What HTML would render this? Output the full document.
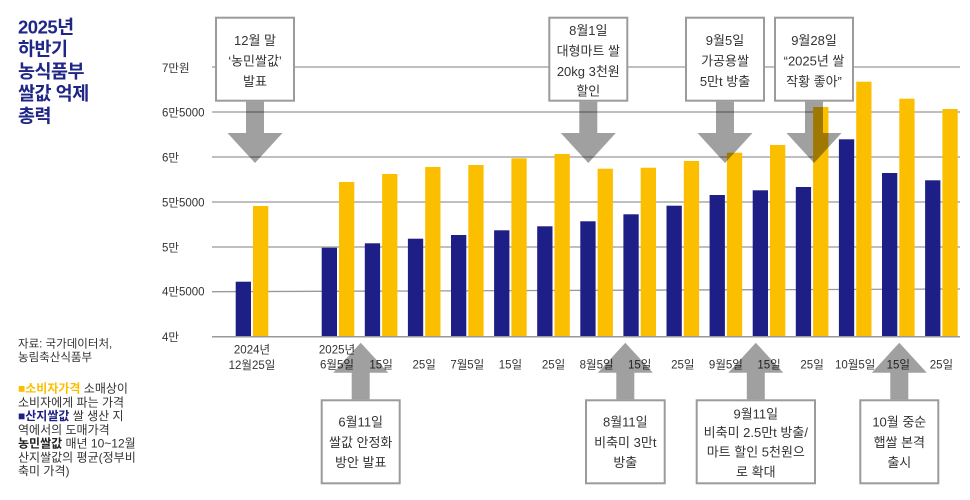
<!DOCTYPE html>
<html><head><meta charset="utf-8"><style>
html,body{margin:0;padding:0;background:#fff;}
svg{display:block;}
text{font-family:"Liberation Sans","Noto Sans CJK KR",sans-serif;}
.ax{font-size:11.5px;fill:#333;}
.xl{font-size:11.5px;fill:#333;text-anchor:middle;}
.bx{font-size:13px;fill:#333;text-anchor:middle;}
.lg{font-size:12px;fill:#333;}
.src{font-size:11.5px;fill:#333;}
.ar{fill:#a0a0a0;mix-blend-mode:multiply;}
.box{fill:#fff;stroke:#9b9b9b;stroke-width:2;}
</style></head><body>
<svg width="970" height="500" viewBox="0 0 970 500" xmlns="http://www.w3.org/2000/svg">
<!-- title -->
<g font-size="18.5" font-weight="bold" fill="#1f2687" letter-spacing="-0.5">
<text x="18" y="33.5">2025년</text>
<text x="18" y="55.7">하반기</text>
<text x="18" y="77.9">농식품부</text>
<text x="18" y="100.1">쌀값 억제</text>
<text x="18" y="122.3">총력</text>
</g>
<!-- gridlines -->
<g stroke="#999" stroke-width="1.3">
<line x1="212" y1="67" x2="960" y2="67"/>
<line x1="212" y1="112" x2="960" y2="112"/>
<line x1="212" y1="157" x2="960" y2="157"/>
<line x1="212" y1="202" x2="960" y2="202"/>
<line x1="212" y1="247" x2="960" y2="247"/>
<line x1="212" y1="291.7" x2="960" y2="289"/>
</g>
<!-- y labels -->
<text class="ax" x="162" y="72">7만원</text>
<text class="ax" x="162" y="116.5">6만5000</text>
<text class="ax" x="162" y="161.5">6만</text>
<text class="ax" x="162" y="206.5">5만5000</text>
<text class="ax" x="162" y="251.5">5만</text>
<text class="ax" x="162" y="295.5">4만5000</text>
<text class="ax" x="162" y="341">4만</text>
<!-- bars -->
<g fill="#1e1f86">
<rect x="235.7" y="281.7" width="15.3" height="54.8"/>
<rect x="321.7" y="247.7" width="15.3" height="88.8"/>
<rect x="364.8" y="243.3" width="15.3" height="93.2"/>
<rect x="407.9" y="238.7" width="15.3" height="97.8"/>
<rect x="451.0" y="235" width="15.3" height="101.5"/>
<rect x="494.1" y="230.3" width="15.3" height="106.2"/>
<rect x="537.2" y="226.3" width="15.3" height="110.2"/>
<rect x="580.3" y="221.3" width="15.3" height="115.2"/>
<rect x="623.4" y="214.3" width="15.3" height="122.2"/>
<rect x="666.5" y="205.7" width="15.3" height="130.8"/>
<rect x="709.6" y="195" width="15.3" height="141.5"/>
<rect x="752.7" y="190.3" width="15.3" height="146.2"/>
<rect x="795.8" y="187" width="15.3" height="149.5"/>
<rect x="838.9" y="139.3" width="15.3" height="197.2"/>
<rect x="882.0" y="173" width="15.3" height="163.5"/>
<rect x="925.1" y="180.3" width="15.3" height="156.2"/>
</g>
<g fill="#fcbf00">
<rect x="253.0" y="206" width="15.3" height="130.5"/>
<rect x="339.0" y="182" width="15.3" height="154.5"/>
<rect x="382.1" y="174" width="15.3" height="162.5"/>
<rect x="425.2" y="167" width="15.3" height="169.5"/>
<rect x="468.3" y="165" width="15.3" height="171.5"/>
<rect x="511.4" y="158.3" width="15.3" height="178.2"/>
<rect x="554.5" y="154" width="15.3" height="182.5"/>
<rect x="597.6" y="168.7" width="15.3" height="167.8"/>
<rect x="640.7" y="167.7" width="15.3" height="168.8"/>
<rect x="683.8" y="161" width="15.3" height="175.5"/>
<rect x="726.9" y="152.7" width="15.3" height="183.8"/>
<rect x="770.0" y="145" width="15.3" height="191.5"/>
<rect x="813.1" y="107" width="15.3" height="229.5"/>
<rect x="856.2" y="81.7" width="15.3" height="254.8"/>
<rect x="899.3" y="98.7" width="15.3" height="237.8"/>
<rect x="942.4" y="109" width="15.3" height="227.5"/>
</g>
<line x1="212" y1="336.7" x2="960" y2="336.7" stroke="#999" stroke-width="1.5"/>
<!-- x labels -->
<text class="xl" x="252" y="353.5">2024년</text>
<text class="xl" x="252" y="369">12월25일</text>
<text class="xl" x="337" y="353.5">2025년</text>
<text class="xl" x="337" y="368.5">6월5일</text>
<text class="xl" x="381.1" y="368.5">15일</text>
<text class="xl" x="424.2" y="368.5">25일</text>
<text class="xl" x="467.3" y="368.5">7월5일</text>
<text class="xl" x="510.4" y="368.5">15일</text>
<text class="xl" x="553.5" y="368.5">25일</text>
<text class="xl" x="596.6" y="368.5">8월5일</text>
<text class="xl" x="639.7" y="368.5">15일</text>
<text class="xl" x="682.8" y="368.5">25일</text>
<text class="xl" x="725.9" y="368.5">9월5일</text>
<text class="xl" x="769" y="368.5">15일</text>
<text class="xl" x="812.1" y="368.5">25일</text>
<text class="xl" x="855.2" y="368.5">10월5일</text>
<text class="xl" x="898.3" y="368.5">15일</text>
<text class="xl" x="941.4" y="368.5">25일</text>
<!-- top boxes -->
<rect class="box" x="216" y="17.7" width="78" height="83"/>
<rect class="box" x="549.3" y="17.7" width="78" height="83"/>
<rect class="box" x="686" y="17.7" width="78" height="83"/>
<rect class="box" x="775" y="17.7" width="78" height="83"/>
<!-- bottom boxes -->
<rect class="box" x="321.7" y="400.3" width="78" height="83"/>
<rect class="box" x="586" y="400.3" width="78.7" height="83"/>
<rect class="box" x="696.7" y="400.3" width="118.3" height="83"/>
<rect class="box" x="860.3" y="400.3" width="78" height="83"/>
<!-- down arrows -->
<polygon class="ar" points="246,101.7 264,101.7 264,133 282.5,133 255,163 227.5,133 246,133"/>
<polygon class="ar" points="579.3,101.7 597.3,101.7 597.3,133 615.8,133 588.3,163 560.8,133 579.3,133"/>
<polygon class="ar" points="716,101.7 734,101.7 734,133 752.5,133 725,163 697.5,133 716,133"/>
<polygon class="ar" points="805,101.7 823,101.7 823,133 841.5,133 814,163 786.5,133 805,133"/>
<!-- up arrows -->
<polygon class="ar" points="360.7,342.7 388.2,372.7 369.7,372.7 369.7,399.3 351.7,399.3 351.7,372.7 333.2,372.7"/>
<polygon class="ar" points="625.3,342.7 652.8,372.7 634.3,372.7 634.3,399.3 616.3,399.3 616.3,372.7 597.8,372.7"/>
<polygon class="ar" points="755.8,342.7 783.3,372.7 764.8,372.7 764.8,399.3 746.8,399.3 746.8,372.7 728.3,372.7"/>
<polygon class="ar" points="899.3,342.7 926.8,372.7 908.3,372.7 908.3,399.3 890.3,399.3 890.3,372.7 871.8,372.7"/>
<!-- top box text -->
<text class="bx" x="255" y="45">12월 말</text>
<text class="bx" x="255" y="65.5">‘농민쌀값’</text>
<text class="bx" x="255" y="86">발표</text>
<text class="bx" x="588.3" y="35">8월1일</text>
<text class="bx" x="588.3" y="55.5">대형마트 쌀</text>
<text class="bx" x="588.3" y="76">20kg 3천원</text>
<text class="bx" x="588.3" y="95.5">할인</text>
<text class="bx" x="725" y="45">9월5일</text>
<text class="bx" x="725" y="65.5">가공용쌀</text>
<text class="bx" x="725" y="86">5만t 방출</text>
<text class="bx" x="814" y="45">9월28일</text>
<text class="bx" x="814" y="65.5">“2025년 쌀</text>
<text class="bx" x="814" y="86">작황 좋아”</text>
<!-- bottom box text -->
<text class="bx" x="360.7" y="426.7">6월11일</text>
<text class="bx" x="360.7" y="447.2">쌀값 안정화</text>
<text class="bx" x="360.7" y="467.2">방안 발표</text>
<text class="bx" x="625.3" y="426.7">8월11일</text>
<text class="bx" x="625.3" y="447.2">비축미 3만t</text>
<text class="bx" x="625.3" y="467.2">방출</text>
<text class="bx" x="755.8" y="418.3">9월11일</text>
<text class="bx" x="755.8" y="437">비축미 2.5만t 방출/</text>
<text class="bx" x="755.8" y="456.7">마트 할인 5천원으</text>
<text class="bx" x="755.8" y="476.5">로 확대</text>
<text class="bx" x="899.3" y="426.7">10월 중순</text>
<text class="bx" x="899.3" y="447.2">햅쌀 본격</text>
<text class="bx" x="899.3" y="467.2">출시</text>
<!-- source & legend -->
<text class="src" x="18" y="347.5">자료: 국가데이터처,</text>
<text class="src" x="18" y="361">농림축산식품부</text>
<text class="lg" x="18" y="392.5"><tspan fill="#fcbf00">■</tspan><tspan fill="#fcbf00" font-weight="bold">소비자가격</tspan> 소매상이</text>
<text class="lg" x="18" y="406.3">소비자에게 파는 가격</text>
<text class="lg" x="18" y="420"><tspan fill="#1e1f86">■</tspan><tspan fill="#1e1f86" font-weight="bold">산지쌀값</tspan> 쌀 생산 지</text>
<text class="lg" x="18" y="433.8">역에서의 도매가격</text>
<text class="lg" x="18" y="447.5"><tspan font-weight="bold" fill="#222">농민쌀값</tspan> 매년 10~12월</text>
<text class="lg" x="18" y="461.3">산지쌀값의 평균(정부비</text>
<text class="lg" x="18" y="475">축미 가격)</text>
</svg>
</body></html>
